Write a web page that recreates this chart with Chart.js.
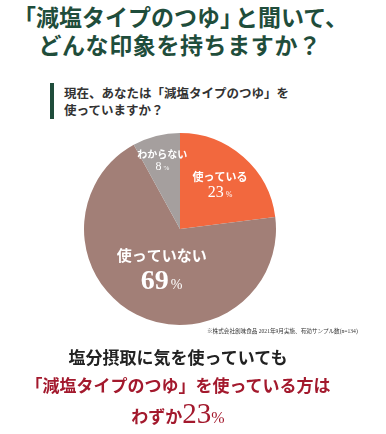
<!DOCTYPE html>
<html lang="ja">
<head>
<meta charset="utf-8">
<script src="https://cdn.jsdelivr.net/npm/chart.js@4/dist/chart.umd.min.js"></script>
<style>
  html, body { margin: 0; padding: 0; background: #fff; }
  body { width: 386px; height: 434px; position: relative; overflow: hidden;
         font-family: "Noto Sans CJK JP", sans-serif; }
  .abs { position: absolute; white-space: nowrap; }
  #title { left: 0; width: 360px; top: 2px; text-align: center; color: #1f4d3b;
           font-size: 23px; font-weight: 700; line-height: 28px; }
  #title .ob { margin-left: -8px; }
  #title .cb { margin-right: -8px; }
  #title .cm { margin-right: -9px; }
  #title .l2 { letter-spacing: 0.6px; }
  #bar { left: 50px; top: 83px; width: 4px; height: 36px; background: #1f4d3b; }
  #question { left: 64px; top: 84px; color: #333; font-size: 12.5px; font-weight: 700; line-height: 17px; }
  #chartBox { left: 80px; top: 129px; width: 200px; height: 200px; }
  #note { left: 207px; top: 327px; font-size: 5.6px; color: #333; font-family: "Liberation Serif", "Noto Sans CJK JP", serif; }
  #summary { left: 0; width: 356px; top: 343px; text-align: center; font-weight: 700; font-size: 17px; line-height: 28px; }
  #summary .l1 { color: #222; }
  #summary .red { color: #a3192d; }
  #summary .big { font-family: "Liberation Serif", serif; font-size: 29px; font-weight: 400; }
  #summary .pct { font-family: "Liberation Serif", serif; font-size: 16px; font-weight: 400; }
</style>
</head>
<body>
<div id="title" class="abs"><span class="ob">「</span>減塩タイプのつゆ<span class="cb">」</span>と聞いて<span class="cm">、</span><br><span class="l2">どんな印象を持ちますか？</span></div>
<div id="bar" class="abs"></div>
<div id="question" class="abs">現在、あなたは「減塩タイプのつゆ」を<br>使っていますか？</div>
<div id="chartBox" class="abs"><canvas id="pie" width="200" height="200"></canvas></div>
<div id="note" class="abs">※株式会社創味食品 2021年9月実施、有効サンプル数(n=134)</div>
<div id="summary" class="abs">
  <div class="l1">塩分摂取に気を使っていても</div>
  <div class="red">「減塩タイプのつゆ」を使っている方は</div>
  <div class="red">わずか<span class="big">23</span><span class="pct">%</span></div>
</div>
<script>
const labels = ["使っている", "使っていない", "わからない"];
const values = [23, 69, 8];
const colors = ["#f2683e", "#a27f77", "#a59f9e"];

// label look per slice: radial position, name size, number size, number weight
const labelStyle = [
  { r: 0.63, name: 11, num: 16, pct: 8, w: "400" },
  { r: 0.42, name: 15, num: 28, pct: 14, w: "700" },
  { r: 0.74, name: 10, num: 12, pct: 7, w: "400" }
];

const sliceLabels = {
  id: "sliceLabels",
  afterDatasetsDraw(chart) {
    const ctx = chart.ctx;
    const meta = chart.getDatasetMeta(0);
    meta.data.forEach((arc, i) => {
      const p = arc.getProps(["x", "y", "startAngle", "endAngle", "outerRadius"], true);
      const mid = (p.startAngle + p.endAngle) / 2;
      const st = labelStyle[i];
      const cx = p.x + Math.cos(mid) * p.outerRadius * st.r;
      const cy = p.y + Math.sin(mid) * p.outerRadius * st.r;
      ctx.save();
      ctx.fillStyle = "#fff";
      ctx.textBaseline = "alphabetic";
      ctx.textAlign = "center";
      ctx.font = "700 " + st.name + "px 'Noto Sans CJK JP'";
      ctx.fillText(labels[i], cx, cy - st.num * 0.15);
      const numTxt = String(values[i]);
      ctx.font = st.w + " " + st.num + "px 'Liberation Serif'";
      const nw = ctx.measureText(numTxt).width;
      ctx.font = st.pct + "px 'Liberation Serif'";
      const pw = ctx.measureText("%").width;
      const x0 = cx - (nw + pw + 2) / 2;
      const base = cy + st.num * 0.85;
      ctx.textAlign = "left";
      ctx.font = st.w + " " + st.num + "px 'Liberation Serif'";
      ctx.fillText(numTxt, x0, base);
      ctx.font = st.pct + "px 'Liberation Serif'";
      ctx.fillText("%", x0 + nw + 2, base);
      ctx.restore();
    });
  }
};

new Chart(document.getElementById("pie"), {
  type: "pie",
  data: {
    labels: labels,
    datasets: [{ data: values, backgroundColor: colors, borderWidth: 0 }]
  },
  options: {
    responsive: false,
    animation: false,
    layout: { padding: 4 },
    plugins: { legend: { display: false }, tooltip: { enabled: false } }
  },
  plugins: [sliceLabels]
});
</script>
</body>
</html>
